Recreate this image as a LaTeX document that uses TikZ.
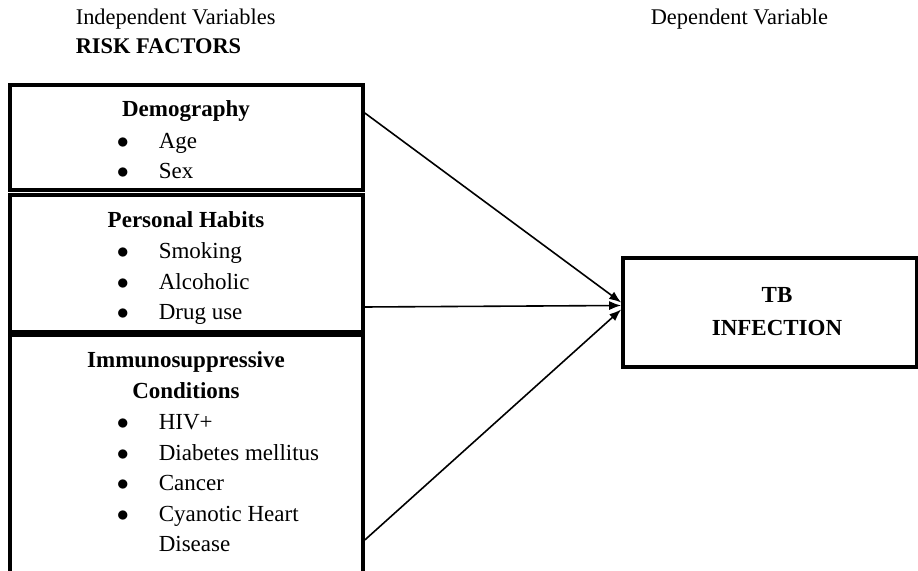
\documentclass[tikz,border=0pt]{standalone}
\usepackage{fontspec}
\setmainfont{Liberation Serif}
\usetikzlibrary{arrows.meta}
\tikzset{>={Latex[length=6pt,width=4.5pt]}}
\usetikzlibrary{calc}
\tikzset{
  factorbox/.style={draw, line width=1.8pt, inner sep=0pt, minimum width=176.5pt},
  heading/.style={anchor=base, inner sep=0pt, font=\fontsize{11.5}{13}\selectfont\bfseries},
  item/.style={anchor=base west, inner sep=0pt, font=\fontsize{11.5}{13}\selectfont},
  toplabel/.style={anchor=base west, inner sep=0pt, font=\fontsize{11.2}{13}\selectfont}
}
\newcommand{\bul}{\makebox[21pt][l]{$\bullet$}}

\begin{document}
\begin{tikzpicture}[x=0.5pt, y=-0.5pt, thick]
    \useasboundingbox (0,0) rectangle (918,571);
    \clip (0,0) rectangle (918,571);

    \node[toplabel] (indep) at (75,25) {Independent Variables};
    \node[toplabel, font=\fontsize{11.2}{13}\selectfont\bfseries] (risk) at (75,54) {RISK FACTORS};
    \node[toplabel] (dep) at (650,25) {Dependent Variable};

    \node[factorbox, minimum height=52.5pt] (demo) at (186.5,137.5) {};
    \node[factorbox, minimum height=68.5pt] (habits) at (186.5,263.5) {};
    \node[factorbox, minimum height=125pt] (immuno) at (186.5,460) {};
    \node[factorbox, minimum width=147pt, minimum height=54.5pt] (tb) at (770,312.5) {};

    \node[heading] (demo-title) at (186,117) {Demography};
    \node[item] (age) at (116,149) {\bul Age};
    \node[item] (sex) at (116,179) {\bul Sex};

    \node[heading] (habits-title) at (186,228) {Personal Habits};
    \node[item] (smoking) at (116,259) {\bul Smoking};
    \node[item] (alcohol) at (116,290) {\bul Alcoholic};
    \node[item] (drug) at (116,320) {\bul Drug use};

    \node[heading] (immuno-title) at (186,368) {Immunosuppressive};
    \node[heading] (cond-title) at (186,399) {Conditions};
    \node[item] (hiv) at (116,430) {\bul HIV+};
    \node[item] (diabetes) at (116,461) {\bul Diabetes mellitus};
    \node[item] (cancer) at (116,491) {\bul Cancer};
    \node[item] (heart) at (116,522) {\bul Cyanotic Heart};
    \node[item] (disease) at (158,552) {Disease};

    \node[heading] (tb-title) at (777,303) {TB};
    \node[heading] (infection) at (777,336) {INFECTION};

    \coordinate (demo-out) at ($(demo.east)+(0,-24.5)$);
    \coordinate (habits-out) at ($(habits.east)+(0,43.5)$);
    \coordinate (immuno-out) at ($(immuno.east)+(0,80)$);
    \draw[->, line width=0.8pt] (demo-out) -- ($(tb.west)+(0,-10)$);
    \draw[->, line width=0.8pt] (habits-out) -- ($(tb.west)+(0,-7)$);
    \draw[->, line width=0.8pt] (immuno-out) -- ($(tb.west)+(0,-3)$);
  \end{tikzpicture}
\end{document}
